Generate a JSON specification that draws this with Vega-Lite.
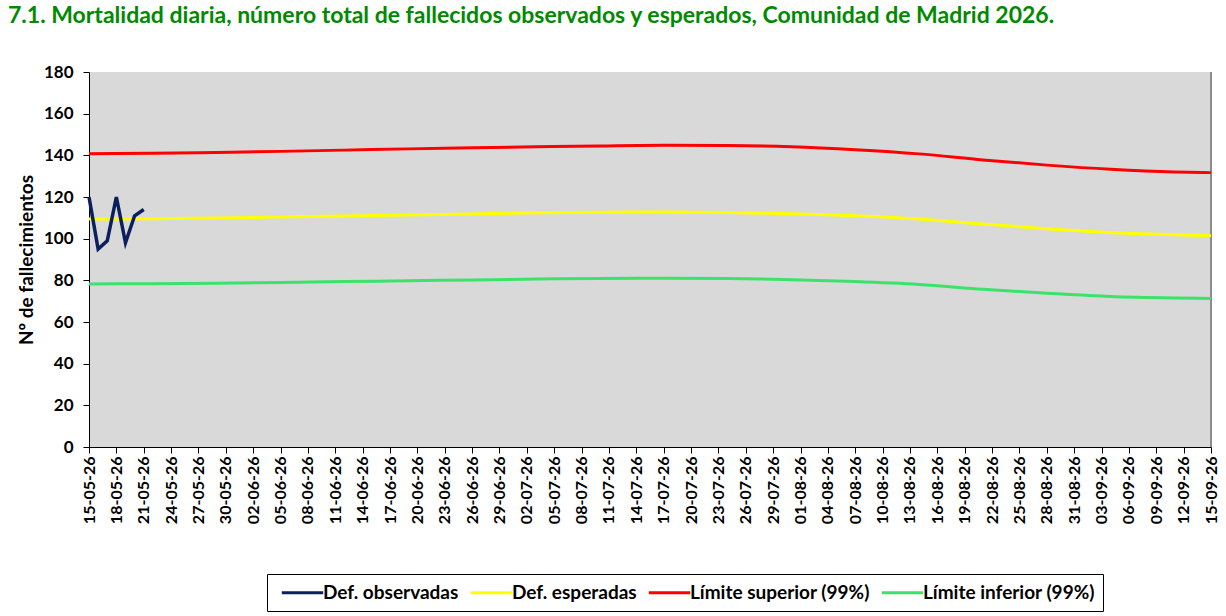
{
  "$schema": "https://vega.github.io/schema/vega-lite/v6.json",
  "width": 1122,
  "height": 375,
  "autosize": {"type": "none"},
  "padding": {"left": 89, "top": 72, "right": 15, "bottom": 169},
  "background": "white",
  "title": {
    "text": "7.1. Mortalidad diaria, número total de fallecidos observados y esperados, Comunidad de Madrid 2026.",
    "anchor": "start",
    "frame": "group",
    "font": "Lato",
    "fontSize": 23,
    "fontWeight": "bold",
    "color": "#008a00",
    "baseline": "alphabetic",
    "offset": 57,
    "dy": 40,
    "dx": -81
  },
  "config": {
    "font": "Lato",
    "view": {"stroke": null, "fill": "#d9d9d9"},
    "axis": {
      "labelFont": "Lato",
      "labelFontWeight": "bold",
      "labelColor": "#000000",
      "titleFont": "Lato",
      "titleFontWeight": "bold",
      "titleColor": "#000000",
      "domainColor": "#000000",
      "tickColor": "#000000",
      "grid": false,
      "tickSize": 6
    },
    "legend": {
      "labelFont": "Lato"
    }
  },
  "datasets": {
    "obs": [
      {"d": "2026-05-15T00:00:00", "s": "Def. observadas", "v": 120},
      {"d": "2026-05-16T00:00:00", "s": "Def. observadas", "v": 95},
      {"d": "2026-05-17T00:00:00", "s": "Def. observadas", "v": 99},
      {"d": "2026-05-18T00:00:00", "s": "Def. observadas", "v": 120},
      {"d": "2026-05-19T00:00:00", "s": "Def. observadas", "v": 98},
      {"d": "2026-05-20T00:00:00", "s": "Def. observadas", "v": 111},
      {"d": "2026-05-21T00:00:00", "s": "Def. observadas", "v": 114}
    ],
    "ref": [
      {"d": "2026-05-15T00:00:00", "s": "Def. esperadas", "v": 109.4},
      {"d": "2026-05-22T00:00:00", "s": "Def. esperadas", "v": 109.6},
      {"d": "2026-05-29T00:00:00", "s": "Def. esperadas", "v": 109.9},
      {"d": "2026-06-05T00:00:00", "s": "Def. esperadas", "v": 110.4},
      {"d": "2026-06-12T00:00:00", "s": "Def. esperadas", "v": 110.9},
      {"d": "2026-06-19T00:00:00", "s": "Def. esperadas", "v": 111.4},
      {"d": "2026-06-26T00:00:00", "s": "Def. esperadas", "v": 111.9},
      {"d": "2026-07-03T00:00:00", "s": "Def. esperadas", "v": 112.4},
      {"d": "2026-07-10T00:00:00", "s": "Def. esperadas", "v": 112.7},
      {"d": "2026-07-17T00:00:00", "s": "Def. esperadas", "v": 112.8},
      {"d": "2026-07-24T00:00:00", "s": "Def. esperadas", "v": 112.6},
      {"d": "2026-07-31T00:00:00", "s": "Def. esperadas", "v": 112.0},
      {"d": "2026-08-07T00:00:00", "s": "Def. esperadas", "v": 111.0},
      {"d": "2026-08-14T00:00:00", "s": "Def. esperadas", "v": 109.4},
      {"d": "2026-08-21T00:00:00", "s": "Def. esperadas", "v": 107.0},
      {"d": "2026-08-28T00:00:00", "s": "Def. esperadas", "v": 104.8},
      {"d": "2026-09-04T00:00:00", "s": "Def. esperadas", "v": 103.0},
      {"d": "2026-09-11T00:00:00", "s": "Def. esperadas", "v": 101.9},
      {"d": "2026-09-15T00:00:00", "s": "Def. esperadas", "v": 101.4},
      {"d": "2026-05-15T00:00:00", "s": "Límite superior (99%)", "v": 140.8},
      {"d": "2026-05-22T00:00:00", "s": "Límite superior (99%)", "v": 141.0},
      {"d": "2026-05-29T00:00:00", "s": "Límite superior (99%)", "v": 141.4},
      {"d": "2026-06-05T00:00:00", "s": "Límite superior (99%)", "v": 141.9},
      {"d": "2026-06-12T00:00:00", "s": "Límite superior (99%)", "v": 142.5},
      {"d": "2026-06-19T00:00:00", "s": "Límite superior (99%)", "v": 143.1},
      {"d": "2026-06-26T00:00:00", "s": "Límite superior (99%)", "v": 143.6},
      {"d": "2026-07-03T00:00:00", "s": "Límite superior (99%)", "v": 144.1},
      {"d": "2026-07-10T00:00:00", "s": "Límite superior (99%)", "v": 144.5},
      {"d": "2026-07-17T00:00:00", "s": "Límite superior (99%)", "v": 144.8},
      {"d": "2026-07-24T00:00:00", "s": "Límite superior (99%)", "v": 144.7},
      {"d": "2026-07-31T00:00:00", "s": "Límite superior (99%)", "v": 144.1},
      {"d": "2026-08-07T00:00:00", "s": "Límite superior (99%)", "v": 142.7},
      {"d": "2026-08-14T00:00:00", "s": "Límite superior (99%)", "v": 140.7},
      {"d": "2026-08-21T00:00:00", "s": "Límite superior (99%)", "v": 137.8},
      {"d": "2026-08-28T00:00:00", "s": "Límite superior (99%)", "v": 135.3},
      {"d": "2026-09-04T00:00:00", "s": "Límite superior (99%)", "v": 133.3},
      {"d": "2026-09-11T00:00:00", "s": "Límite superior (99%)", "v": 132.0},
      {"d": "2026-09-15T00:00:00", "s": "Límite superior (99%)", "v": 131.7},
      {"d": "2026-05-15T00:00:00", "s": "Límite inferior (99%)", "v": 78.3},
      {"d": "2026-05-22T00:00:00", "s": "Límite inferior (99%)", "v": 78.4},
      {"d": "2026-05-29T00:00:00", "s": "Límite inferior (99%)", "v": 78.6},
      {"d": "2026-06-05T00:00:00", "s": "Límite inferior (99%)", "v": 79.0},
      {"d": "2026-06-12T00:00:00", "s": "Límite inferior (99%)", "v": 79.4},
      {"d": "2026-06-19T00:00:00", "s": "Límite inferior (99%)", "v": 79.8},
      {"d": "2026-06-26T00:00:00", "s": "Límite inferior (99%)", "v": 80.2},
      {"d": "2026-07-03T00:00:00", "s": "Límite inferior (99%)", "v": 80.6},
      {"d": "2026-07-10T00:00:00", "s": "Límite inferior (99%)", "v": 80.9},
      {"d": "2026-07-17T00:00:00", "s": "Límite inferior (99%)", "v": 81.0},
      {"d": "2026-07-24T00:00:00", "s": "Límite inferior (99%)", "v": 80.9},
      {"d": "2026-07-31T00:00:00", "s": "Límite inferior (99%)", "v": 80.3},
      {"d": "2026-08-07T00:00:00", "s": "Límite inferior (99%)", "v": 79.4},
      {"d": "2026-08-14T00:00:00", "s": "Límite inferior (99%)", "v": 78.0},
      {"d": "2026-08-21T00:00:00", "s": "Límite inferior (99%)", "v": 75.7},
      {"d": "2026-08-28T00:00:00", "s": "Límite inferior (99%)", "v": 73.8},
      {"d": "2026-09-04T00:00:00", "s": "Límite inferior (99%)", "v": 72.2},
      {"d": "2026-09-11T00:00:00", "s": "Límite inferior (99%)", "v": 71.5},
      {"d": "2026-09-15T00:00:00", "s": "Límite inferior (99%)", "v": 71.3}
    ],
    "edge": [{"d": "2026-09-15T00:00:00"}]
  },
  "encoding": {
    "x": {
      "field": "d",
      "type": "temporal",
      "scale": {
        "domain": [{"year": 2026, "month": 5, "date": 15}, {"year": 2026, "month": 9, "date": 15}],
        "nice": false
      },
      "axis": {
        "title": null,
        "format": "%d-%m-%y",
        "labelAngle": 270,
        "labelAlign": "right",
        "labelBaseline": "middle",
        "labelFontSize": 16,
        "labelPadding": 3,
        "labelOverlap": false,
        "labelFlush": false,
        "values": [
          {"year": 2026, "month": 5, "date": 15}, {"year": 2026, "month": 5, "date": 18},
          {"year": 2026, "month": 5, "date": 21}, {"year": 2026, "month": 5, "date": 24},
          {"year": 2026, "month": 5, "date": 27}, {"year": 2026, "month": 5, "date": 30},
          {"year": 2026, "month": 6, "date": 2}, {"year": 2026, "month": 6, "date": 5},
          {"year": 2026, "month": 6, "date": 8}, {"year": 2026, "month": 6, "date": 11},
          {"year": 2026, "month": 6, "date": 14}, {"year": 2026, "month": 6, "date": 17},
          {"year": 2026, "month": 6, "date": 20}, {"year": 2026, "month": 6, "date": 23},
          {"year": 2026, "month": 6, "date": 26}, {"year": 2026, "month": 6, "date": 29},
          {"year": 2026, "month": 7, "date": 2}, {"year": 2026, "month": 7, "date": 5},
          {"year": 2026, "month": 7, "date": 8}, {"year": 2026, "month": 7, "date": 11},
          {"year": 2026, "month": 7, "date": 14}, {"year": 2026, "month": 7, "date": 17},
          {"year": 2026, "month": 7, "date": 20}, {"year": 2026, "month": 7, "date": 23},
          {"year": 2026, "month": 7, "date": 26}, {"year": 2026, "month": 7, "date": 29},
          {"year": 2026, "month": 8, "date": 1}, {"year": 2026, "month": 8, "date": 4},
          {"year": 2026, "month": 8, "date": 7}, {"year": 2026, "month": 8, "date": 10},
          {"year": 2026, "month": 8, "date": 13}, {"year": 2026, "month": 8, "date": 16},
          {"year": 2026, "month": 8, "date": 19}, {"year": 2026, "month": 8, "date": 22},
          {"year": 2026, "month": 8, "date": 25}, {"year": 2026, "month": 8, "date": 28},
          {"year": 2026, "month": 8, "date": 31}, {"year": 2026, "month": 9, "date": 3},
          {"year": 2026, "month": 9, "date": 6}, {"year": 2026, "month": 9, "date": 9},
          {"year": 2026, "month": 9, "date": 12}, {"year": 2026, "month": 9, "date": 15}
        ]
      }
    }
  },
  "layer": [
    {
      "data": {"name": "edge"},
      "mark": {"type": "rule", "color": "#8c8c8c", "strokeWidth": 2}
    },
    {
      "data": {"name": "ref"},
      "mark": {"type": "line", "strokeWidth": 3, "interpolate": "monotone"},
      "encoding": {
        "y": {"field": "v", "type": "quantitative"},
        "color": {"field": "s", "type": "nominal"}
      }
    },
    {
      "data": {"name": "obs"},
      "mark": {"type": "line", "strokeWidth": 3.5},
      "encoding": {
        "y": {
          "field": "v",
          "type": "quantitative",
          "scale": {"domain": [0, 180], "nice": false},
          "axis": {
            "title": "Nº de fallecimientos",
            "titleFontSize": 19,
            "titlePadding": 7,
            "labelFontSize": 17,
            "labelPadding": 10,
            "values": [0, 20, 40, 60, 80, 100, 120, 140, 160, 180]
          }
        },
        "color": {
          "field": "s",
          "type": "nominal",
          "scale": {
            "domain": ["Def. observadas", "Def. esperadas", "Límite superior (99%)", "Límite inferior (99%)"],
            "range": ["#0b1f5c", "#ffff00", "#ff0000", "#3ce36a"]
          },
          "legend": {
            "title": null,
            "orient": "none",
            "legendX": 178,
            "legendY": 502,
            "direction": "horizontal",
            "symbolType": "M-2.3,0H2.3",
            "symbolSize": 324,
            "symbolOffset": 17,
            "symbolStrokeWidth": 3,
            "labelFontSize": 19,
            "labelFontWeight": "bold",
            "labelColor": "#000000",
            "labelLimit": 300,
            "labelOffset": 10,
            "columnPadding": 5,
            "padding": 8,
            "strokeColor": "#000000",
            "fillColor": "#ffffff"
          }
        }
      }
    }
  ]
}
